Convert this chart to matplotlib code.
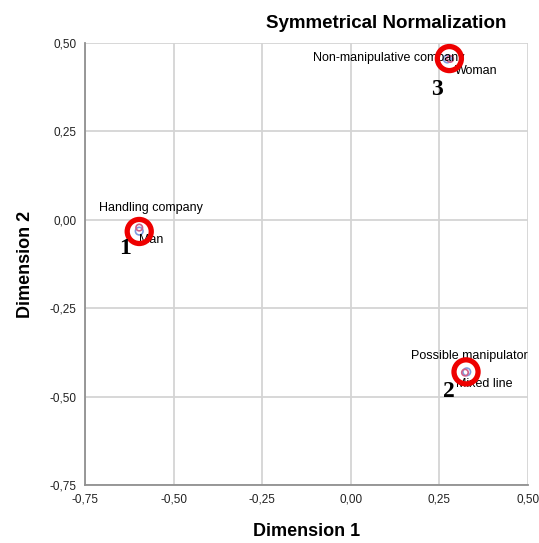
import matplotlib.pyplot as plt
from matplotlib.ticker import FuncFormatter

plt.rcParams['font.family'] = ['Liberation Sans', 'DejaVu Sans']

# category points (symmetrical normalization)
company_labels = ['Handling company', 'Non-manipulative company', 'Possible manipulator']
company_x = [-0.597, 0.272, 0.327]
company_y = [-0.032, 0.455, -0.430]

sex_labels = ['Man', 'Woman', 'Mixed line']
sex_x = [-0.597, 0.280, 0.322]
sex_y = [-0.022, 0.455, -0.432]

# highlighted clusters
cluster_ids = ['1', '2', '3']
cluster_x = [-0.597, 0.325, 0.278]
cluster_y = [-0.033, -0.430, 0.456]

ticks = [-0.75, -0.50, -0.25, 0.00, 0.25, 0.50]

fig = plt.figure(figsize=(5.39, 5.43), dpi=100)
ax = fig.add_axes([0.1577, 0.1068, 0.822, 0.814])

ax.set_xlim(-0.75, 0.50)
ax.set_ylim(-0.75, 0.50)
ax.set_xticks(ticks)
ax.set_yticks(ticks)
fmt = FuncFormatter(lambda v, p: f'{v:.2f}'.replace('.', ','))
ax.xaxis.set_major_formatter(fmt)
ax.yaxis.set_major_formatter(fmt)
ax.tick_params(length=0, labelsize=8.5, colors='#222222', pad=6)
ax.grid(True, color='#d4d4d4', linewidth=1.3)
ax.set_axisbelow(True)
for s in ['top', 'right']:
    ax.spines[s].set_visible(False)
for s in ['left', 'bottom']:
    ax.spines[s].set_color('#909090')
    ax.spines[s].set_linewidth(1.3)

ax.scatter(company_x, company_y, s=30, facecolors='none', edgecolors='#7f9be0', linewidths=1.2, zorder=3)
ax.scatter(sex_x, sex_y, s=22, facecolors='none', edgecolors='#d0608a', linewidths=1.2, zorder=3)

# labels (offsets in pixels)
company_off = [(12, 23), (-58, 1), (3, 16)]
sex_off = [(12, -12), (26, -12), (19, -11)]
for lab, x, y, off in zip(company_labels, company_x, company_y, company_off):
    ax.annotate(lab, (x, y), xytext=off, textcoords='offset pixels', ha='center', va='center', fontsize=9)
for lab, x, y, off in zip(sex_labels, sex_x, sex_y, sex_off):
    ax.annotate(lab, (x, y), xytext=off, textcoords='offset pixels', ha='center', va='center', fontsize=9)

# red rings and cluster numbers
ax.scatter(cluster_x, cluster_y, s=300, facecolors='none', edgecolors='#ee0000', linewidths=3.8, zorder=4)
num_off = [(-14, -17), (-17, -20), (-12, -31)]
for cid, cx, cy, off in zip(cluster_ids, cluster_x, cluster_y, num_off):
    ax.annotate(cid, (cx, cy), xytext=off, textcoords='offset pixels', ha='center', va='center',
                fontsize=17, fontweight='bold', family=['Liberation Serif', 'DejaVu Serif'], zorder=5)

ax.set_xlabel('Dimension 1', fontsize=13, fontweight='bold', labelpad=13)
ax.set_ylabel('Dimension 2', fontsize=13, fontweight='bold', labelpad=11)
fig.text(0.716, 0.956, 'Symmetrical Normalization', ha='center', va='center', fontsize=13.5, fontweight='bold')

fig.savefig('out.png', dpi=100)
